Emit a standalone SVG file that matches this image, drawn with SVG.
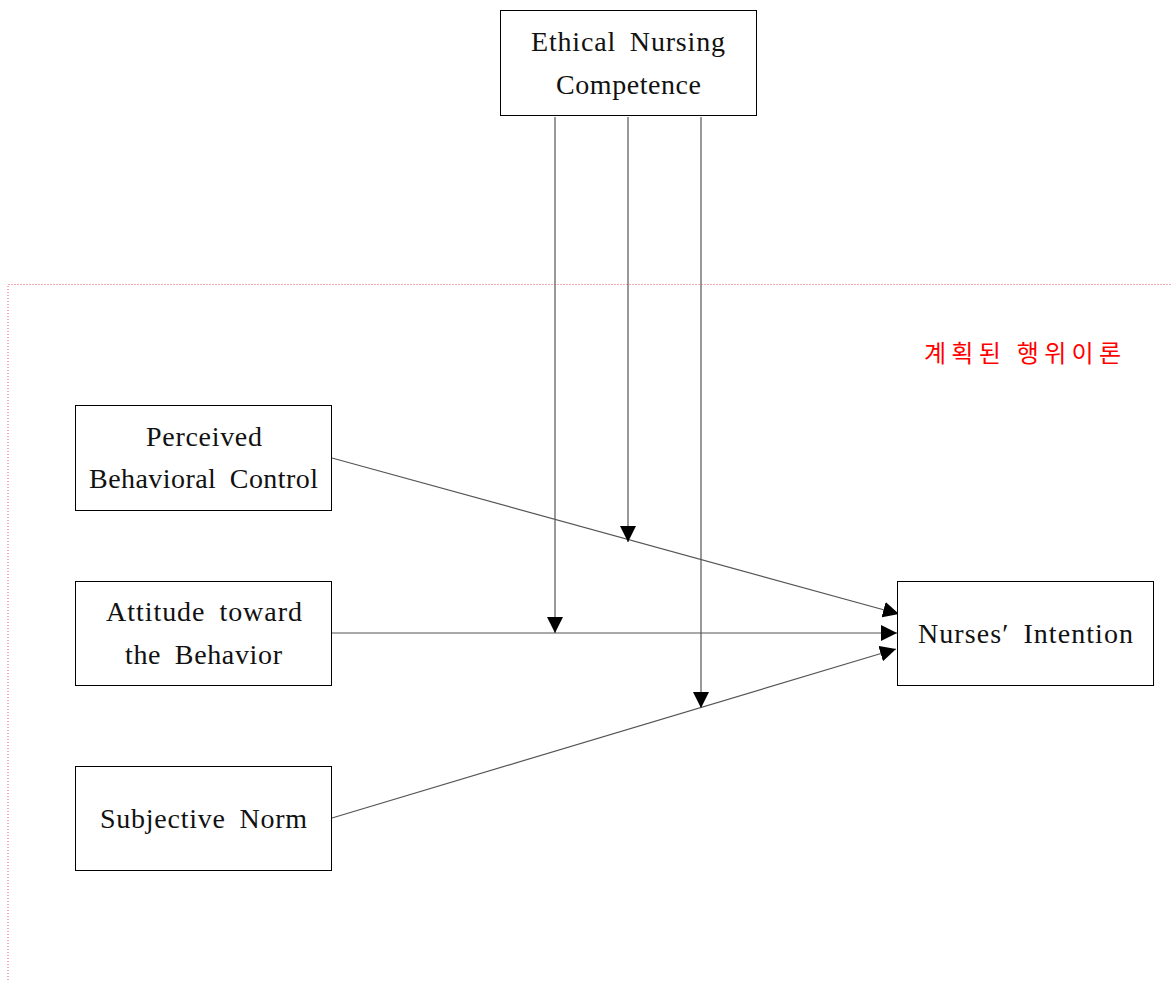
<svg xmlns="http://www.w3.org/2000/svg" width="1172" height="983" viewBox="0 0 1172 983">
<style>
.box{fill:#fff;stroke:#000;stroke-width:1}
.t{font-family:"Liberation Serif","Times New Roman",serif;font-size:28px;fill:#111;text-anchor:middle;word-spacing:6px}
.ln{stroke:#555;stroke-width:1.2;fill:none;marker-end:url(#ah)}
.kr{font-family:"Noto Sans CJK KR",sans-serif;font-size:24px;fill:#f00}
</style>
<defs>
<marker id="ah" markerWidth="16" markerHeight="16" viewBox="0 0 16 16" refX="16" refY="8" orient="auto" markerUnits="userSpaceOnUse">
<path d="M0,0 L16,8 L0,16 Z" fill="#000"/>
</marker>
</defs>
<path d="M8,980 V284.5 H1172" fill="none" stroke="#e85a70" stroke-width="1" stroke-dasharray="1,2"/>
<text class="kr" x="924" y="362" textLength="197" lengthAdjust="spacing">계획된 행위이론</text>
<g id="connectors">
<line class="ln" x1="332" y1="458" x2="899" y2="614"/>
<line class="ln" x1="332" y1="633" x2="897" y2="633"/>
<line class="ln" x1="332" y1="818" x2="896" y2="649"/>
<line class="ln" x1="555" y1="117" x2="555" y2="633"/>
<line class="ln" x1="628" y1="117" x2="628" y2="542"/>
<line class="ln" x1="701" y1="117" x2="701" y2="708"/>
</g>
<g id="ethical">
<rect class="box" x="500.5" y="10.5" width="256" height="105"/>
<text class="t" x="628" y="51" textLength="194" lengthAdjust="spacing">Ethical Nursing</text>
<text class="t" x="628.5" y="94" textLength="145" lengthAdjust="spacing">Competence</text>
</g>
<g id="pbc">
<rect class="box" x="75.5" y="405.5" width="256" height="105"/>
<text class="t" x="204" y="446" textLength="116" lengthAdjust="spacing">Perceived</text>
<text class="t" x="203.5" y="488" textLength="229" lengthAdjust="spacing">Behavioral Control</text>
</g>
<g id="attitude">
<rect class="box" x="75.5" y="581.5" width="256" height="104"/>
<text class="t" x="204" y="621" textLength="196" lengthAdjust="spacing">Attitude toward</text>
<text class="t" x="203.5" y="664" textLength="157" lengthAdjust="spacing">the Behavior</text>
</g>
<g id="subjective">
<rect class="box" x="75.5" y="766.5" width="256" height="104"/>
<text class="t" x="203.5" y="828" textLength="207" lengthAdjust="spacing">Subjective Norm</text>
</g>
<g id="intention">
<rect class="box" x="897.5" y="581.5" width="256" height="104"/>
<text class="t" x="1025.5" y="643" textLength="215" lengthAdjust="spacing">Nurses′ Intention</text>
</g>
</svg>
